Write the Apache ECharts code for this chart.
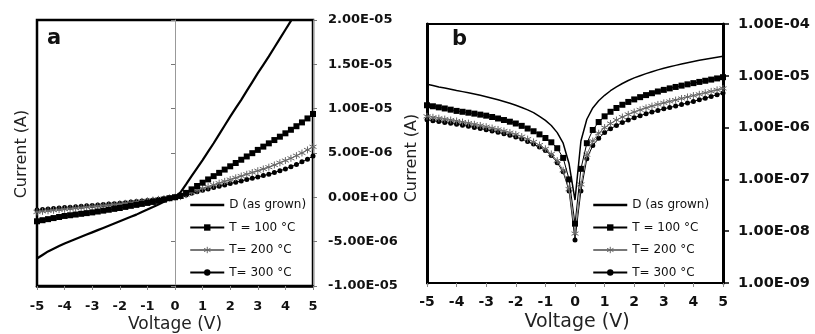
<!DOCTYPE html>
<html><head><meta charset="utf-8">
<script src="https://cdn.jsdelivr.net/npm/echarts@6/dist/echarts.min.js"></script>
<style>html,body{margin:0;padding:0;background:#fff}#c{width:815px;height:334px}</style>
</head><body><div id="c"></div>
<script>
// Voltage (V)
const voltage = [-5.0,-4.8,-4.6,-4.4,-4.2,-4.0,-3.8,-3.6,-3.4,-3.2,-3.0,-2.8,-2.6,-2.4,-2.2,-2.0,-1.8,-1.6,-1.4,-1.2,-1.0,-0.8,-0.6,-0.4,-0.2,0.0,0.2,0.4,0.6,0.8,1.0,1.2,1.4,1.6,1.8,2.0,2.2,2.4,2.6,2.8,3.0,3.2,3.4,3.6,3.8,4.0,4.2,4.4,4.6,4.8,5.0];
// Current in microamps (1e-6 A)
const currentD_uA = [-6.9,-6.5,-6.1,-5.8,-5.5,-5.2,-4.95,-4.7,-4.45,-4.2,-3.95,-3.7,-3.45,-3.2,-2.95,-2.7,-2.45,-2.2,-1.95,-1.65,-1.38,-1.1,-0.8,-0.5,-0.2,0.04,0.55,1.45,2.4,3.3,4.2,5.15,6.1,7.1,8.1,9.1,10.05,11.0,12.0,13.0,14.0,14.95,15.9,16.9,17.9,18.9,19.9,20.9,21.9,22.9,23.9];
const currentT100_uA = [-2.70,-2.58,-2.46,-2.34,-2.22,-2.10,-2.02,-1.94,-1.86,-1.78,-1.70,-1.60,-1.50,-1.40,-1.30,-1.20,-1.08,-0.96,-0.85,-0.74,-0.63,-0.52,-0.40,-0.26,-0.10,0.014,0.16,0.5,0.9,1.28,1.65,2.02,2.39,2.76,3.13,3.5,3.87,4.24,4.61,4.98,5.35,5.72,6.09,6.46,6.84,7.22,7.62,8.02,8.45,8.9,9.4];
const currentT200_uA = [-1.65,-1.58,-1.52,-1.46,-1.40,-1.34,-1.28,-1.22,-1.16,-1.10,-1.04,-0.98,-0.92,-0.86,-0.80,-0.74,-0.67,-0.60,-0.53,-0.46,-0.39,-0.31,-0.23,-0.15,-0.065,0.009,0.08,0.3,0.55,0.78,1.0,1.2,1.4,1.6,1.8,2.0,2.2,2.4,2.6,2.8,3.0,3.2,3.4,3.65,3.9,4.15,4.4,4.7,5.0,5.35,5.7];
const currentT300_uA = [-1.42,-1.36,-1.31,-1.26,-1.21,-1.16,-1.11,-1.06,-1.01,-0.96,-0.91,-0.86,-0.81,-0.76,-0.71,-0.66,-0.60,-0.54,-0.48,-0.42,-0.36,-0.29,-0.21,-0.14,-0.06,0.0068,0.06,0.25,0.45,0.62,0.8,0.95,1.1,1.25,1.4,1.55,1.7,1.85,2.0,2.15,2.3,2.45,2.6,2.8,3.0,3.2,3.45,3.7,4.0,4.3,4.65];
const seriesNames = ['D (as grown)','T = 100 °C','T= 200 °C','T= 300 °C'];
const xTicks = [-5,-4,-3,-2,-1,0,1,2,3,4,5];

const FONT = 'DejaVu Sans';
function sci(v){
  if (Math.abs(v) < 1e-15) return '0.00E+00';
  const p = v.toExponential(2).split('e');
  const e = parseInt(p[1],10);
  const ae = Math.abs(e);
  return p[0] + 'E' + (e<0?'-':'+') + (ae<10?'0':'') + ae;
}
function lin(arr){ return voltage.map((v,i)=>[v, arr[i]*1e-6]); }
function logd(arr){ return voltage.map((v,i)=>[v, Math.abs(arr[i])*1e-6]); }

const ASTER = 'path://M5,0L5,10M0.7,2.5L9.3,7.5M0.7,7.5L9.3,2.5';
const styles = [
  {symbol:'none', lw:2.2, lc:'#000'},
  {symbol:'rect', size:6, lw:1, lc:'#000', item:{color:'#000'}},
  {symbol:ASTER, size:7, lw:1, lc:'#777', item:{color:'none', borderColor:'#666', borderWidth:1}},
  {symbol:'circle', size:5, lw:1, lc:'#000', item:{color:'#000'}}
];
const dataSets = [currentD_uA, currentT100_uA, currentT200_uA, currentT300_uA];

const series = [];
dataSets.forEach((arr,k)=>{
  const s = styles[k];
  series.push({name:seriesNames[k], type:'line', xAxisIndex:0, yAxisIndex:0, data:lin(arr),
    symbol:s.symbol, symbolSize:s.size||0, showSymbol:s.symbol!=='none',
    lineStyle:{color:s.lc, width:s.lw}, itemStyle:s.item||{color:s.lc}, clip:true, animation:false, z: 10-k});
  series.push({name:seriesNames[k], type:'line', xAxisIndex:1, yAxisIndex:3, data:logd(arr),
    symbol:s.symbol, symbolSize:s.size||0, showSymbol:s.symbol!=='none',
    lineStyle:{color:s.lc, width:k===0?1.5:s.lw}, itemStyle:s.item||{color:s.lc}, clip:true, animation:false, z: 10-k});
});

const legendData = seriesNames.map((n,k)=> k===0 ? {name:n, itemStyle:{opacity:0}, lineStyle:{width:2.5}}
  : (k===2 ? {name:n, itemStyle:{color:'none', borderColor:'#666', borderWidth:1}} : {name:n}));
const tickLbl = {fontFamily:FONT, fontWeight:'bold', fontSize:13, color:'#111'};
const option = {
  backgroundColor:'#fff',
  animation:false,
  grid:[
    {left:37, top:20, width:276, height:266, show:true, borderColor:'#000', borderWidth:2.5, backgroundColor:'transparent'},
    {left:427, top:24, width:296, height:259, show:true, borderColor:'#000', borderWidth:2, backgroundColor:'transparent'}
  ],
  xAxis:[
    {gridIndex:0, type:'value', min:-5, max:5, interval:1,
     axisLine:{onZero:false, lineStyle:{color:'#000', width:2.5}},
     axisTick:{show:true, length:4, lineStyle:{color:'#888'}},
     axisLabel:Object.assign({margin:14, formatter:v=>String(v)}, tickLbl), splitLine:{show:false}},
    {gridIndex:1, type:'value', min:-5, max:5, interval:1,
     axisLine:{onZero:false, lineStyle:{color:'#000', width:2}},
     axisTick:{show:true, length:4, lineStyle:{color:'#888'}},
     axisLabel:Object.assign({margin:12, formatter:v=>String(v)}, tickLbl, {fontSize:14}), splitLine:{show:false}}
  ],
  yAxis:[
    {gridIndex:0, type:'value', min:-1e-5, max:2e-5, interval:5e-6, position:'right',
     axisLine:{show:false, onZero:false}, axisTick:{show:false},
     axisLabel:Object.assign({margin:15, formatter:sci}, tickLbl), splitLine:{show:false}},
    {gridIndex:0, type:'value', min:-1e-5, max:2e-5, interval:5e-6, position:'left',
     axisLine:{show:true, onZero:true, lineStyle:{color:'#999', width:1}},
     axisTick:{show:true, length:4, lineStyle:{color:'#777'}}, axisLabel:{show:false}, splitLine:{show:false}},
    {gridIndex:0, type:'value', min:-1e-5, max:2e-5, interval:5e-6, position:'right',
     axisLine:{show:true, onZero:true, lineStyle:{color:'#999', width:1}},
     axisTick:{show:true, length:4, lineStyle:{color:'#777'}}, axisLabel:{show:false}, splitLine:{show:false}},
    {gridIndex:1, type:'log', logBase:10, min:1e-9, max:1e-4, position:'right',
     axisLine:{show:true, onZero:false, lineStyle:{color:'#000', width:3}},
     axisTick:{show:true, length:6, lineStyle:{color:'#000', width:1.5}},
     axisLabel:Object.assign({margin:15, formatter:sci}, tickLbl, {fontSize:14.5}), splitLine:{show:false}, minorTick:{show:false}},
    {gridIndex:1, type:'log', logBase:10, min:1e-9, max:1e-4, position:'left',
     axisLine:{show:true, onZero:false, lineStyle:{color:'#000', width:3}},
     axisTick:{show:false}, axisLabel:{show:false}, splitLine:{show:false}}
  ],
  legend:[
    {data:legendData, orient:'vertical', left:184, top:194, itemWidth:34, itemHeight:8, itemGap:10.5,
     textStyle:{fontFamily:FONT, fontSize:12, color:'#111'}, inactiveColor:'#ccc'},
    {data:legendData, orient:'vertical', left:587, top:194, itemWidth:34, itemHeight:8, itemGap:10.5,
     textStyle:{fontFamily:FONT, fontSize:12, color:'#111'}, inactiveColor:'#ccc'}
  ],
  graphic:[
    {type:'text', left:47, top:28, style:{text:'a', font:'bold 21px '+FONT, fill:'#111'}},
    {type:'text', left:452, top:29, style:{text:'b', font:'bold 21px '+FONT, fill:'#111'}},
    {type:'text', x:22, y:154, rotation:Math.PI/2, style:{text:'Current (A)', font:'16px '+FONT, fill:'#222', align:'center', verticalAlign:'middle'}},
    {type:'text', x:412, y:158, rotation:Math.PI/2, style:{text:'Current (A)', font:'16px '+FONT, fill:'#222', align:'center', verticalAlign:'middle'}},
    {type:'text', x:175, y:325, style:{text:'Voltage (V)', font:'17px '+FONT, fill:'#222', align:'center', verticalAlign:'middle'}},
    {type:'text', x:577, y:322, style:{text:'Voltage (V)', font:'19px '+FONT, fill:'#222', align:'center', verticalAlign:'middle'}}
  ],
  series:series
};
const chart = echarts.init(document.getElementById('c'), null, {renderer:'canvas'});
chart.setOption(option);
</script></body></html>
